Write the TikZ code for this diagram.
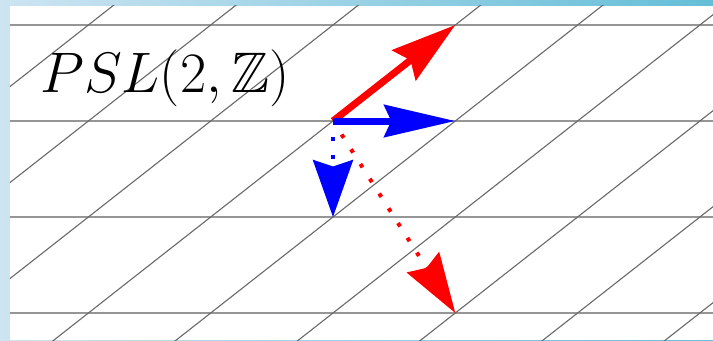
\RequirePackage{fix-cm}
\documentclass[tikz,border=0pt]{standalone}
\usepackage{amsmath,amssymb}
\usepackage{tikz}
\usetikzlibrary{arrows.meta,calc}
\definecolor{slidelight}{RGB}{205,228,242}
\definecolor{slidedark}{RGB}{100,190,215}
\definecolor{hgray}{RGB}{150,150,150}
\definecolor{dgray}{RGB}{105,105,105}

\begin{document}
\begin{tikzpicture}[
    x=2.446cm, y=1.92cm,
    hline/.style={hgray, line width=0.04cm},
    dline/.style={dgray, line width=0.022cm},
    solidarr/.style={line width=0.14cm},
    dotarr/.style={line width=0.08cm, dash pattern=on 0.08cm off 0.27cm, shorten <=0.32cm}
]
\useasboundingbox (-2.7228,-2.2813) rectangle (3.1071,1.2604);
% slide background
\shade[left color=slidelight, right color=slidedark] (-2.7228,-2.2813) rectangle (3.1071,1.2604);
\fill[white] (-2.641,-2.2813) rectangle (3.1071,1.198);
% lattice lines
\begin{scope}
  \clip (-2.641,-2.2813) rectangle (3.1071,1.198);
  \foreach \j in {1,0,-1,-2}
    \draw[hline] (-3,\j) -- (3.2,\j);
  \foreach \k in {-4,...,6}
    \draw[dline] ({\k-3},-3) -- ({\k+2},2);
\end{scope}
% label
\node[anchor=base west, inner sep=0pt, font=\fontsize{32.5}{40}\selectfont] (title) at (-2.396,0.302) {$PSL(2,\mathbb{Z})$};
% basis vectors
\coordinate (o)  at (0,0);
\coordinate (t1) at (1,1);
\coordinate (t0) at (1,0);
\coordinate (s0) at (0,-1);
\coordinate (s1) at (1,-2);
\draw[solidarr, red,  -{Stealth[length=1.3cm, width=0.76cm, inset=0.16cm]}] (o) -- (t1);
\draw[solidarr, blue, -{Stealth[length=1.42cm, width=0.64cm, inset=0.14cm]}] (o) -- (t0);
\draw[dotarr, blue, -{Stealth[length=1.14cm, width=0.8cm, inset=0.13cm]}] (o) -- (s0);
\draw[dotarr, red,  -{Stealth[length=1.2cm, width=0.76cm, inset=0.13cm]}] (o) -- (s1);
\end{tikzpicture}
\end{document}
